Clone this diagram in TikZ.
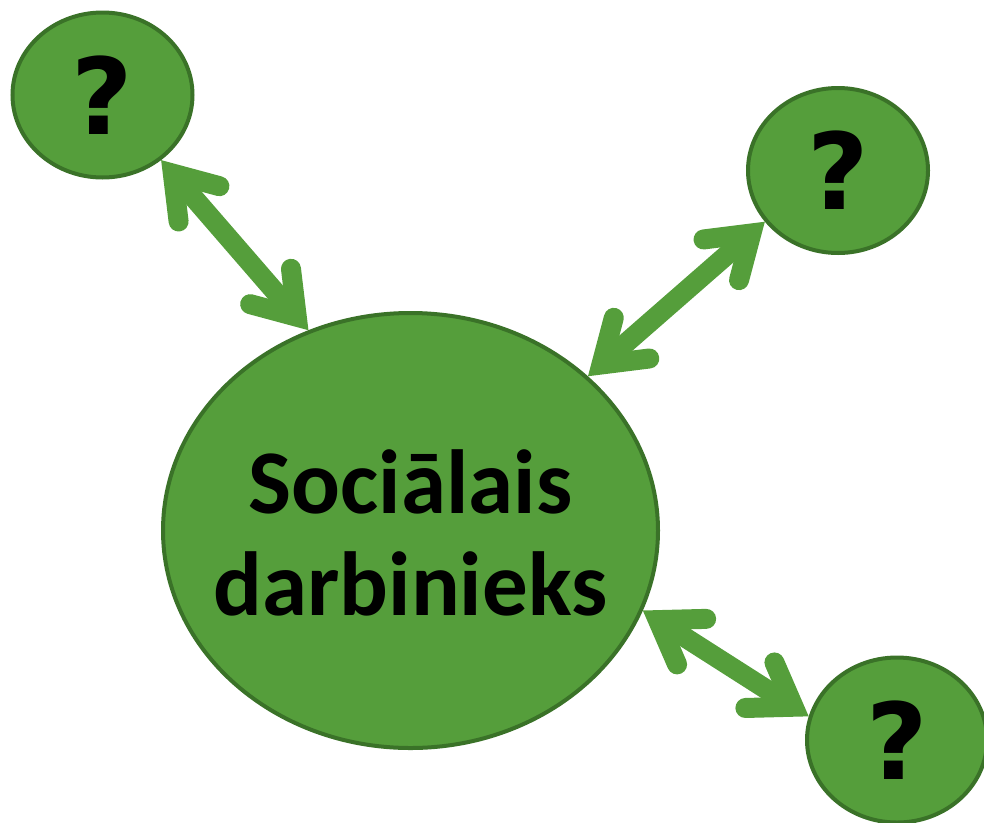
\documentclass[tikz,border=0pt]{standalone}
\usepackage{fontspec}
\setmainfont{Carlito}
\newfontfamily\qfont{DejaVu Sans}
\usetikzlibrary{shapes.geometric,arrows.meta}
\definecolor{fillgreen}{HTML}{559E3B}
\definecolor{edgegreen}{HTML}{3A7228}
\definecolor{arrowgreen}{HTML}{559E3B}
\begin{document}
\begin{tikzpicture}[x=1pt,y=-1pt,
  bub/.style={ellipse,draw=edgegreen,fill=fillgreen,line width=4pt,inner sep=0pt},
  small/.style={bub,minimum width=180pt,minimum height=165pt,font=\qfont\fontsize{106}{106}\selectfont\bfseries},
  barbtip/.tip={Straight Barb[length=40pt,width=54pt,line cap=round,line join=miter]},
  link/.style={draw=arrowgreen,line width=20pt,line cap=round,barbtip-barbtip}]
\useasboundingbox (0,0) rectangle (984,822);
\node[bub,minimum width=495pt,minimum height=435pt] (c) at (410.5,530.5) {};
\node[align=center,inner sep=0pt,font=\fontsize{91}{102}\selectfont\bfseries] (ct) at ([yshift=-2pt]c.center) {Sociālais\\darbinieks};
\node[small] (tl) at (102.5,95) {?};
\node[small] (tr) at (838,170.5) {?};
\node[small] (br) at (897,740) {?};
\draw[link] (tl.-48.6) -- (c.117);
\draw[link] (tr.215) -- (c.41.3);
\draw[link] (br.165.5) -- (c.-19.4);
\end{tikzpicture}
\end{document}
